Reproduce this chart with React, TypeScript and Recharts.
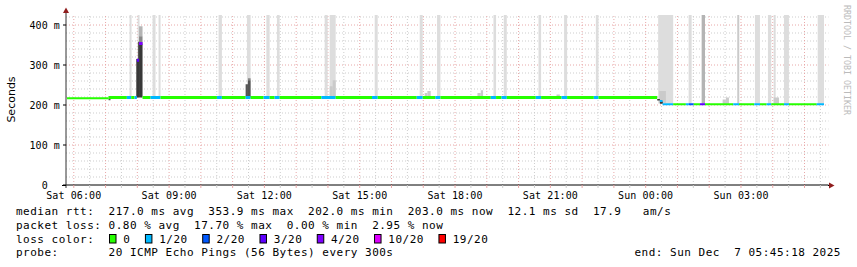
import { ComposedChart, Line, XAxis, YAxis, ReferenceLine, ReferenceArea } from "recharts";

const W = 857;
const H = 267;
const MONO = "'DejaVu Sans Mono', monospace";

// hours from Sat 00:00; 24h window ending Sun 05:45:18
const startHour = 5.755;
const endHour = 29.755;

const timeTicks = [6, 9, 12, 15, 18, 21, 24, 27];
const timeLabels = ["Sat 06:00", "Sat 09:00", "Sat 12:00", "Sat 15:00", "Sat 18:00", "Sat 21:00", "Sun 00:00", "Sun 03:00"];
const rttTicks = [0, 100, 200, 300, 400];
const rttLabels = ["0  ", "100 m", "200 m", "300 m", "400 m"];
const rttMax = 425;

const lossLabels = ["0", "1/20", "2/20", "3/20", "4/20", "10/20", "19/20"];
const lossColors = ["#26ff00", "#00b8ff", "#0059ff", "#5e00ff", "#7e00ff", "#dd00ff", "#ff0000"];

// median rtt: [from h, to h, ms, loss index]
const medianSegments: [number, number, number, number][] = [
  [5.786, 7.094, 217, 0],
  [7.094, 7.67, 218.5, 0],
  [7.67, 7.808, 218.5, 1],
  [7.808, 7.912, 218.5, 0],
  [7.912, 7.985, 218.5, 1],
  [7.985, 8.054, 312, 3],
  [8.054, 8.164, 354, 4],
  [8.164, 8.416, 218.5, 0],
  [8.416, 8.731, 218.5, 1],
  [8.731, 10.505, 218.5, 0],
  [10.505, 10.662, 218.5, 1],
  [10.662, 11.409, 218.5, 0],
  [11.409, 11.566, 218.5, 1],
  [11.566, 11.976, 218.5, 0],
  [11.976, 12.165, 218.5, 1],
  [12.165, 12.322, 218.5, 0],
  [12.322, 12.479, 218.5, 1],
  [12.479, 13.793, 218.5, 0],
  [13.793, 14.243, 218.5, 1],
  [14.243, 15.386, 218.5, 0],
  [15.386, 15.566, 218.5, 1],
  [15.566, 16.795, 218.5, 0],
  [16.795, 16.983, 218.5, 1],
  [16.983, 17.383, 218.5, 0],
  [17.383, 17.541, 218.5, 1],
  [17.541, 19.125, 218.5, 0],
  [19.125, 19.292, 218.5, 1],
  [19.292, 19.462, 218.5, 0],
  [19.462, 19.629, 218.5, 1],
  [19.629, 20.542, 218.5, 0],
  [20.542, 20.709, 218.5, 1],
  [20.709, 21.352, 218.5, 0],
  [21.352, 21.528, 218.5, 1],
  [21.528, 22.369, 218.5, 0],
  [22.369, 22.517, 218.5, 1],
  [22.517, 24.363, 218.5, 0],
  [24.448, 24.532, 210, 1],
  [24.532, 24.866, 202, 1],
  [24.866, 25.266, 202, 0],
  [25.266, 25.361, 202, 1],
  [25.361, 25.512, 202, 2],
  [25.512, 25.71, 202, 0],
  [25.71, 25.868, 202, 3],
  [25.868, 26.756, 202, 0],
  [26.756, 26.937, 202, 1],
  [26.937, 27.418, 202, 0],
  [27.418, 27.598, 202, 1],
  [27.598, 27.808, 202, 0],
  [27.808, 27.953, 202, 1],
  [27.953, 28.353, 202, 0],
  [28.353, 28.51, 202, 1],
  [28.51, 29.383, 202, 0],
  [29.383, 29.613, 202, 1],
];

// smoke: [from h, to h, low ms, high ms, density]
const smoke: [number, number, number, number, number][] = [
  [7.755, 7.818, 219, 425, 1],
  [8.007, 8.07, 219, 425, 1],
  [8.479, 8.573, 219, 425, 1],
  [8.668, 8.731, 219, 425, 1],
  [10.558, 10.662, 219, 425, 1],
  [11.45, 11.566, 219, 425, 1],
  [12.061, 12.165, 219, 425, 1],
  [12.394, 12.479, 219, 425, 1],
  [13.897, 13.991, 219, 425, 1],
  [14.054, 14.243, 219, 425, 1],
  [15.472, 15.566, 219, 425, 1],
  [16.888, 16.983, 219, 425, 1],
  [17.434, 17.541, 219, 425, 1],
  [19.21, 19.292, 219, 425, 1],
  [19.535, 19.629, 219, 425, 1],
  [20.627, 20.709, 219, 425, 1],
  [21.433, 21.528, 219, 425, 1],
  [22.432, 22.517, 219, 425, 1],
  [24.393, 24.866, 204, 425, 1],
  [25.352, 25.447, 203, 425, 1],
  [25.762, 25.868, 203, 425, 3],
  [26.883, 26.946, 203, 425, 2],
  [27.44, 27.598, 203, 425, 1],
  [27.849, 27.953, 203, 425, 1],
  [28.029, 28.092, 203, 425, 1],
  [28.353, 28.51, 203, 425, 1],
  [29.415, 29.613, 203, 425, 1],
  [14.054, 14.148, 219, 247, 2],
  [14.148, 14.243, 219, 262, 2],
  [17.046, 17.13, 219, 230, 2],
  [17.13, 17.235, 219, 235, 2],
  [18.706, 18.81, 219, 230, 2],
  [18.81, 18.883, 219, 237, 2],
  [21.194, 21.298, 219, 226, 2],
  [24.427, 24.637, 205, 235, 2],
  [26.423, 26.527, 203, 214, 2],
  [26.527, 26.622, 203, 219, 2],
  [28.029, 28.196, 203, 219, 2],
  [8.054, 8.164, 372, 397, 3],
  [8.054, 8.164, 354, 372, 4],
  [11.482, 11.566, 262, 267, 4],
  [7.094, 7.156, 212, 216, 5],
  [8.02, 8.054, 315, 358, 5],
  [11.409, 11.482, 219, 252, 5],
  [11.482, 11.566, 219, 262, 5],
  [7.967, 8.054, 219, 315, 6],
  [8.054, 8.164, 219, 354, 6],
  [24.363, 24.448, 211, 215, 6],
  [24.448, 24.54, 203, 209, 6],
];

const smokeShades = ["#ffffff", "#dddddd", "#cacaca", "#b4b4b4", "#888888", "#555555", "#383838"];

const statsLines = [
  "median rtt:  217.0 ms avg  353.9 ms max  202.0 ms min  203.0 ms now  12.1 ms sd  17.9   am/s",
  "packet loss: 0.80 % avg  17.70 % max  0.00 % min  2.95 % now",
];
const probeText = "probe:       20 ICMP Echo Pings (56 Bytes) every 300s";
const endText = "end: Sun Dec  7 05:45:18 2025";

const halfHours: number[] = [];
for (let h = 6; h <= endHour; h += 0.5) halfHours.push(h);
const minorRtt: number[] = [];
for (let v = 20; v <= 420; v += 20) minorRtt.push(v);

const MAJOR = "#e8a8a8";
const MINOR = "#cdcdcd";

function TimeTick({ x, y, payload }: any) {
  const v = payload.value;
  const idx = timeTicks.indexOf(v);
  return (
    <g>
      <line x1={x} x2={x} y1={y} y2={y + 3} stroke={Number.isInteger(v) ? MAJOR : MINOR} />
      {idx >= 0 && (
        <text x={x} y={y + 13.5} textAnchor="middle" fontFamily={MONO} fontSize={10} letterSpacing={0.1} fill="#000">
          {timeLabels[idx]}
        </text>
      )}
    </g>
  );
}

function RttTick({ x, y, payload }: any) {
  const idx = rttTicks.indexOf(payload.value);
  return (
    <g>
      <line x1={x - 3} x2={x} y1={y} y2={y} stroke="#000" />
      <text x={x - 6} y={y + 3.5} textAnchor="end" fontFamily={MONO} fontSize={10} letterSpacing={0.1} fill="#000" style={{ whiteSpace: "pre" }}>
        {rttLabels[idx]}
      </text>
    </g>
  );
}

function Overlay() {
  const boxes: { x: number; label: string; color: string }[] = [];
  let bx = 109;
  lossLabels.forEach((label, i) => {
    boxes.push({ x: bx, label, color: lossColors[i] });
    bx = bx + 14.3 + label.length * 7.12 + 14.5;
  });
  return (
    <svg width={W} height={H} style={{ position: "absolute", left: 0, top: 0, pointerEvents: "none" }}>
      {/* axis arrows */}
      <line x1={66} x2={66} y1={12} y2={15} stroke="#333" />
      <line x1={66} x2={66} y1={185} y2={188} stroke="#333" />
      <polygon points="63,13 69,13 66,7.5" fill="#8f1d1d" />
      <line x1={62} x2={66} y1={185.5} y2={185.5} stroke="#000" />
      <line x1={828} x2={830} y1={185.5} y2={185.5} stroke="#000" />
      <polygon points="829,182.5 829,188.5 834.5,185.5" fill="#8f1d1d" />

      <text x={11} y={99.5} transform="rotate(-90 11 99.5)" textAnchor="middle" dominantBaseline="central" fontFamily="'DejaVu Sans', sans-serif" fontSize={11} fill="#000">
        Seconds
      </text>
      <text x={847} y={60} transform="rotate(90 847 60)" textAnchor="middle" dominantBaseline="central" fontFamily={MONO} fontSize={8.3} fill="#bbbbbb">
        RRDTOOL / TOBI OETIKER
      </text>

      {statsLines.map((s, i) => (
        <text key={i} x={16} y={215 + i * 13.7} fontFamily={MONO} fontSize={11} letterSpacing={0.5} fill="#000" style={{ whiteSpace: "pre" }}>
          {s}
        </text>
      ))}
      <text x={16} y={242.5} fontFamily={MONO} fontSize={11} letterSpacing={0.5} fill="#000">
        loss color:
      </text>
      {boxes.map((b) => (
        <g key={b.label}>
          <rect x={b.x + 0.5} y={234.5} width={6.5} height={8.5} fill={b.color} stroke="#000" />
          <text x={b.x + 14.3} y={242.5} fontFamily={MONO} fontSize={11} letterSpacing={0.5} fill="#000">
            {b.label}
          </text>
        </g>
      ))}
      <text x={16} y={256.3} fontFamily={MONO} fontSize={11} letterSpacing={0.5} fill="#000" style={{ whiteSpace: "pre" }}>
        {probeText}
      </text>
      <text x={841} y={256.3} textAnchor="end" fontFamily={MONO} fontSize={11} letterSpacing={0.5} fill="#000" style={{ whiteSpace: "pre" }}>
        {endText}
      </text>
    </svg>
  );
}

export default function App() {
  const sortedSmoke = [...smoke].sort((a, b) => a[4] - b[4]);
  return (
    <div style={{ position: "relative", width: W, height: H, background: "#fff" }}>
      <style>{"body{margin:0}"}</style>
      <ComposedChart width={W} height={H} margin={{ top: 15, right: 28.5, left: 0, bottom: 62 }}>
        <XAxis
          dataKey="t"
          type="number"
          domain={[startHour, endHour]}
          allowDataOverflow
          ticks={halfHours}
          interval={0}
          tick={<TimeTick />}
          tickLine={false}
          tickSize={0}
          tickMargin={0}
          axisLine={{ stroke: "#000" }}
          height={20}
        />
        <YAxis
          type="number"
          domain={[0, rttMax]}
          allowDataOverflow
          ticks={rttTicks}
          interval={0}
          tick={<RttTick />}
          tickLine={false}
          tickSize={0}
          tickMargin={0}
          axisLine={{ stroke: "#333" }}
          width={66}
        />
        {minorRtt.map((v) => (
          <ReferenceLine key={`h${v}`} y={v} stroke={v % 100 === 0 ? MAJOR : MINOR} strokeDasharray="1 2" zIndex={-100} />
        ))}
        {halfHours.map((h) => (
          <ReferenceLine key={`v${h}`} x={h} stroke={Number.isInteger(h) ? MAJOR : MINOR} strokeDasharray="1 2" zIndex={-100} />
        ))}
        {sortedSmoke.map((s, i) => (
          <ReferenceArea
            key={`s${i}`}
            x1={s[0]}
            x2={s[1]}
            y1={s[2]}
            y2={s[3]}
            fill={smokeShades[s[4]]}
            fillOpacity={1}
            stroke="none"
            ifOverflow="hidden"
            zIndex={-50}
          />
        ))}
        {medianSegments.map((s, i) => (
          <Line
            key={`m${i}`}
            data={[
              { t: s[0], v: s[2] },
              { t: s[1], v: s[2] },
            ]}
            dataKey="v"
            type="linear"
            stroke={lossColors[s[3]]}
            strokeWidth={s[0] < 7 || s[0] > 24.4 ? 2 : 3}
            dot={false}
            activeDot={false}
            isAnimationActive={false}
          />
        ))}
      </ComposedChart>
      <Overlay />
    </div>
  );
}
